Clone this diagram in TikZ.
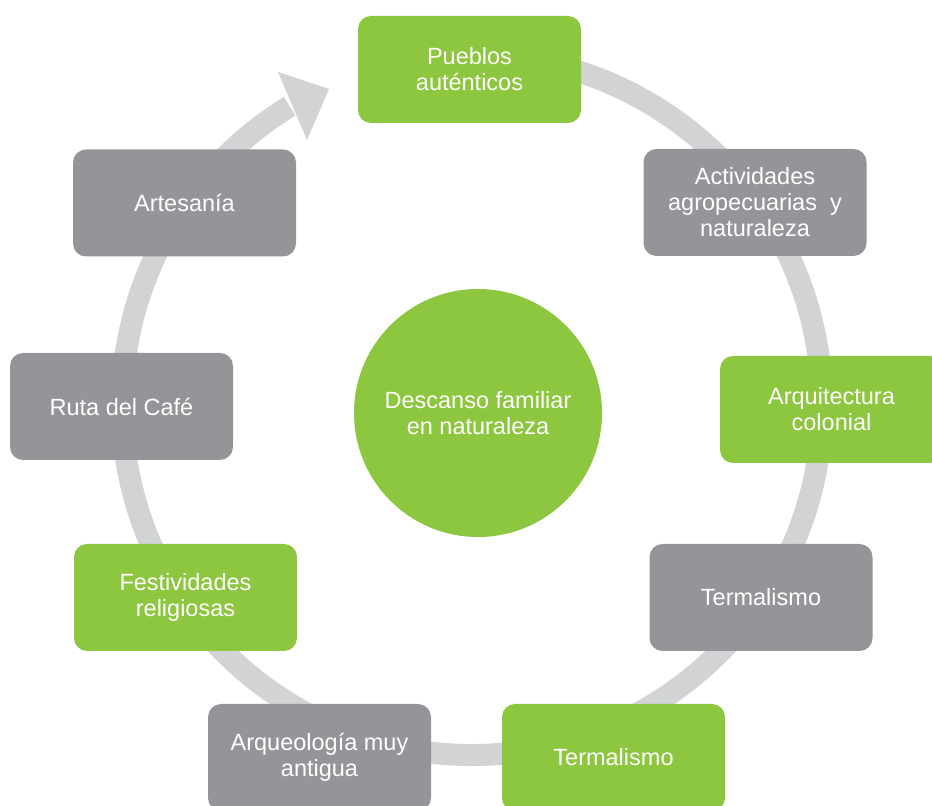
\documentclass[tikz,border=0pt]{standalone}
\usepackage{fontspec}
\setmainfont{Liberation Sans}
\usetikzlibrary{calc}
\definecolor{boxgreen}{HTML}{8DC63F}
\definecolor{boxgray}{HTML}{939598}
\definecolor{ringgray}{HTML}{D1D3D4}
\tikzset{
  tile/.style={rectangle, rounded corners=13pt, minimum width=223pt, minimum height=107pt,
    inner sep=0pt, text=white, align=center,
    font=\fontsize{23.5pt}{26pt}\selectfont},
  greentile/.style={tile, fill=boxgreen},
  graytile/.style={tile, fill=boxgray},
  ring/.style={draw=ringgray, line width=22pt},
}
\begin{document}
\begin{tikzpicture}[x=1pt,y=1pt]
\useasboundingbox (0,0) rectangle (932,806);
% ring with arrowhead
\coordinate (rc) at (472,401);
\draw[ring] ($(rc)+(100:350)$) arc[start angle=100, end angle=-238.6, radius=350];
\coordinate (tip) at (329,717);
\coordinate (barbA) at (278,734);
\coordinate (barbB) at (307,666);
\fill[ringgray] (tip) -- (barbA) -- (barbB) -- cycle;
% centre
\node[circle, fill=boxgreen, minimum size=248pt, inner sep=0pt, text=white, align=center,
  font=\fontsize{23.5pt}{26.5pt}\selectfont] (centre) at (478,393)
  {Descanso familiar\\en naturaleza};
% tiles
\node[greentile] (pueblos) at (469.5,736.5) {Pueblos\\auténticos};
\node[graytile] (activ) at (755,603.5) {Actividades\\agropecuarias~ y\\naturaleza};
\node[greentile] (arqui) at (831.5,396.5) {Arquitectura\\colonial};
\node[graytile] (termA) at (761,208.5) {Termalismo};
\node[greentile] (termB) at (613.5,48.5) {Termalismo};
\node[graytile] (arqueo) at (319.5,48.5) {Arqueología muy\\antigua};
\node[greentile] (festiv) at (185.5,208.5) {Festividades\\religiosas};
\node[graytile] (ruta) at (121.5,399.5) {Ruta del Café};
\node[graytile] (artes) at (184.5,603) {Artesanía};
\end{tikzpicture}
\end{document}
